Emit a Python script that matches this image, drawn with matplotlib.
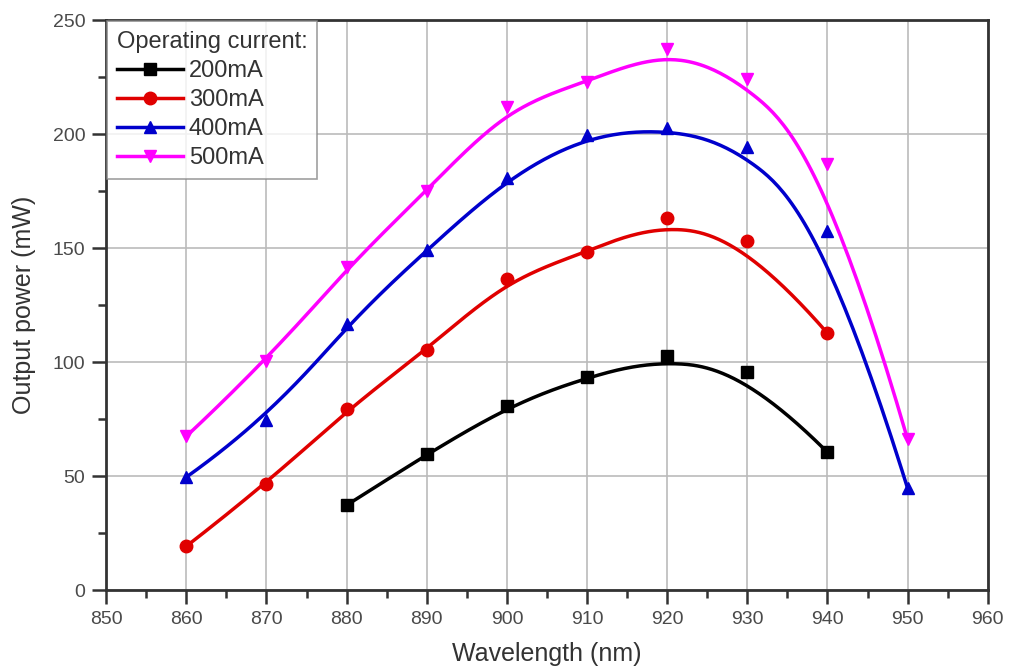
import numpy as np
import matplotlib
matplotlib.use("Agg")
import matplotlib.pyplot as plt
from matplotlib.ticker import MultipleLocator

plt.rcParams['font.family'] = ['Liberation Sans', 'DejaVu Sans']

# wavelength (nm)
wl_200 = [880, 890, 900, 910, 920, 930, 940]
wl_300 = [860, 870, 880, 890, 900, 910, 920, 930, 940]
wl_400 = [860, 870, 880, 890, 900, 910, 920, 930, 940, 950]
wl_500 = [860, 870, 880, 890, 900, 910, 920, 930, 940, 950]

# output power (mW)
p_200 = [37.3, 59.6, 81.0, 93.4, 102.6, 95.6, 60.5]
p_300 = [19.3, 46.5, 79.4, 105.3, 136.4, 148.2, 163.2, 153.0, 112.7]
p_400 = [49.6, 74.6, 116.7, 149.0, 180.7, 199.6, 202.6, 194.3, 157.5, 44.7]
p_500 = [67.5, 100.4, 141.7, 175.0, 211.8, 222.8, 237.3, 224.0, 186.8, 66.2]

labels = ["200mA", "300mA", "400mA", "500mA"]
colors = ["#000000", "#e00000", "#0000cc", "#ff00ff"]
markers = ["s", "o", "^", "v"]


def bspline(px, py, k=3, num=300):
    # clamped cubic B-spline using the points as control points (Origin-style)
    px = np.asarray(px, float)
    py = np.asarray(py, float)
    n = len(px)
    knots = np.concatenate([np.zeros(k), np.arange(n - k + 1), np.full(k, n - k)])
    t = np.linspace(0, n - k, num)
    t[-1] -= 1e-9
    # Cox-de Boor
    B = np.zeros((num, len(knots) - 1))
    for i in range(len(knots) - 1):
        B[:, i] = (t >= knots[i]) & (t < knots[i + 1])
    for d in range(1, k + 1):
        Bn = np.zeros((num, len(knots) - 1 - d))
        for i in range(len(knots) - 1 - d):
            a = knots[i + d] - knots[i]
            b = knots[i + d + 1] - knots[i + 1]
            term = 0
            if a > 0:
                term = term + (t - knots[i]) / a * B[:, i]
            if b > 0:
                term = term + (knots[i + d + 1] - t) / b * B[:, i + 1]
            Bn[:, i] = term
        B = Bn
    return B @ px, B @ py


fig = plt.figure(figsize=(10.11, 6.70), dpi=100)
ax = fig.add_axes([0.105, 0.119, 0.872, 0.851])

series = [(wl_200, p_200), (wl_300, p_300), (wl_400, p_400), (wl_500, p_500)]
for (x, y), lab, c, m in zip(series, labels, colors, markers):
    sx, sy = bspline(x, y)
    ax.plot(sx, sy, color=c, lw=2.5, zorder=3)
    ax.plot(x, y, ls="none", marker=m, color=c, ms=9, zorder=4)
    ax.plot([], [], color=c, lw=2.5, marker=m, ms=9, label=lab)

ax.set_xlim(850, 960)
ax.set_ylim(0, 250)
ax.xaxis.set_major_locator(MultipleLocator(10))
ax.xaxis.set_minor_locator(MultipleLocator(5))
ax.yaxis.set_major_locator(MultipleLocator(50))
ax.yaxis.set_minor_locator(MultipleLocator(25))
ax.grid(True, which="major", color="#bbbbbb", lw=1.2)
ax.set_axisbelow(True)

for s in ax.spines.values():
    s.set_color("#333333")
    s.set_linewidth(2)
ax.tick_params(which="major", direction="out", length=10, width=1.8,
               colors="#333333", labelsize=14, labelcolor="#4a4a4a", pad=5)
ax.tick_params(which="minor", direction="out", length=6, width=1.8, colors="#333333")

ax.set_xlabel("Wavelength (nm)", fontsize=18, color="#333333", labelpad=10)
ax.set_ylabel("Output power (mW)", fontsize=18, color="#333333", labelpad=12)

leg = ax.legend(title="Operating current:", loc="upper left", fontsize=17,
                title_fontsize=17, frameon=True, fancybox=False,
                borderaxespad=0.05, handlelength=2.8, handletextpad=0.25,
                labelspacing=0.3, alignment="left", borderpad=0.4)
leg.get_frame().set_edgecolor("#888888")
leg.get_frame().set_linewidth(1.2)
for t in leg.get_texts():
    t.set_color("#333333")
leg.get_title().set_color("#333333")

fig.savefig("out.png", dpi=100)
